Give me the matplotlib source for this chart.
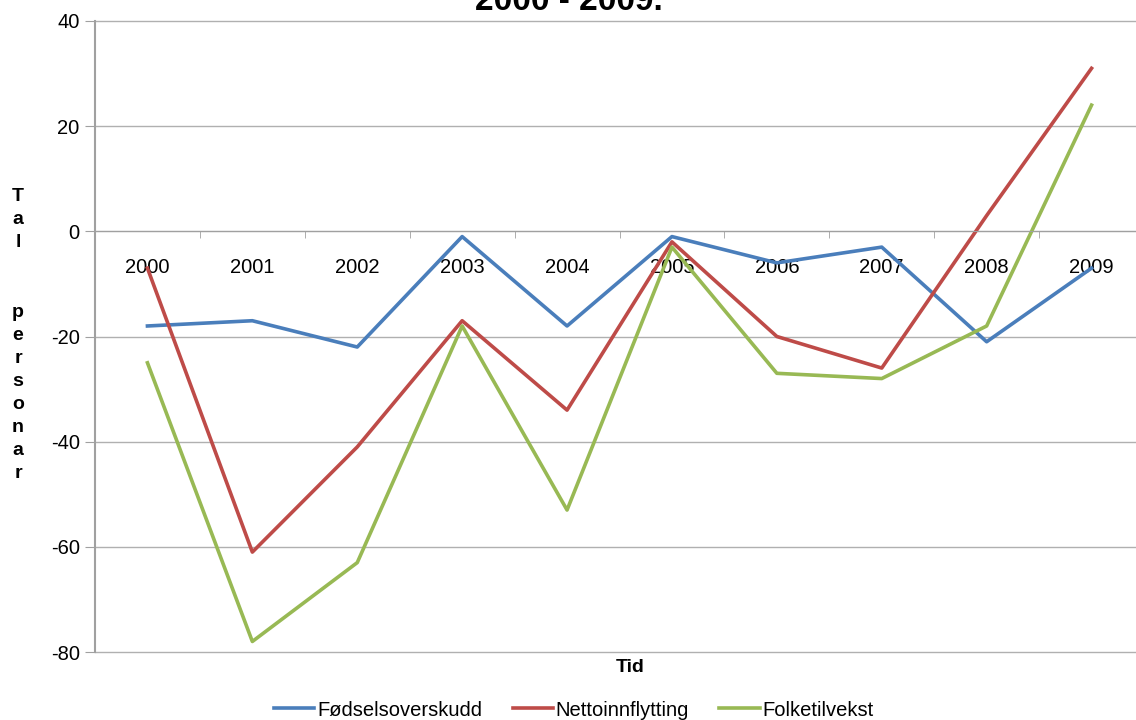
import matplotlib.pyplot as plt
import numpy as np

plt.rcParams['font.family'] = ['Liberation Sans', 'DejaVu Sans']
plt.rcParams['axes.unicode_minus'] = False

years = ['2000', '2001', '2002', '2003', '2004', '2005', '2006', '2007', '2008', '2009']
fodsel = [-18, -17, -22, -1, -18, -1, -6, -3, -21, -7]
netto = [-7, -61, -41, -17, -34, -2, -20, -26, 3, 31]
folke = [-25, -78, -63, -18, -53, -3, -27, -28, -18, 24]

fig = plt.figure(figsize=(11.36, 7.2), dpi=100)
ax = fig.add_axes([95/1136, 68/720, 1049/1136, 631/720])

x = np.arange(len(years))
ax.plot(x, fodsel, color='#4a7ebb', lw=2.6, label='Fødselsoverskudd')
ax.plot(x, netto, color='#be4b48', lw=2.6, label='Nettoinnflytting')
ax.plot(x, folke, color='#98b954', lw=2.6, label='Folketilvekst')

ax.set_xlim(-0.5, 9.5)
ax.set_ylim(-80, 40)
ax.set_yticks(range(-80, 41, 20))
for yv in range(-80, 41, 20):
    ax.axhline(yv, color='#b0b0b0', lw=1, zorder=0, clip_on=False)

# x axis drawn on the zero line
ax.spines['bottom'].set_position(('data', 0.0))
ax.spines['bottom'].set_color('#a0a0a0')
ax.spines['left'].set_color('#a0a0a0')
ax.spines['left'].set_linewidth(1.5)
ax.spines['right'].set_color('none')
ax.spines['top'].set_color('none')

ax.set_xticks(x)
ax.set_xticklabels(years)
ax.set_xticks(np.arange(-0.5, 10, 1), minor=True)
ax.tick_params(axis='x', which='major', length=0, pad=19, labelsize=14.5)
ax.tick_params(axis='x', which='minor', length=5, color='#a0a0a0', direction='out')
ax.tick_params(axis='y', length=7, color='#a0a0a0', labelsize=14.5, pad=4)

fig.text(569/1136, 1 - 10/720, '2000 - 2009.', ha='center', va='baseline',
         fontsize=24, fontweight='bold')
fig.text(18/1136, 1 - 188/720, 'T\na\nl\n\n\np\ne\nr\ns\no\nn\na\nr', ha='center', va='top',
         fontsize=14, fontweight='bold', linespacing=1.47)
fig.text(630/1136, 1 - 667/720, 'Tid', ha='center', va='center',
         fontsize=14, fontweight='bold')

fig.legend(loc='center', bbox_to_anchor=(574/1136, 1 - 710/720), ncol=3, frameon=False,
           fontsize=14.5, handlelength=2.0, handletextpad=0.15, columnspacing=1.5)

fig.savefig('out.png', dpi=100)
